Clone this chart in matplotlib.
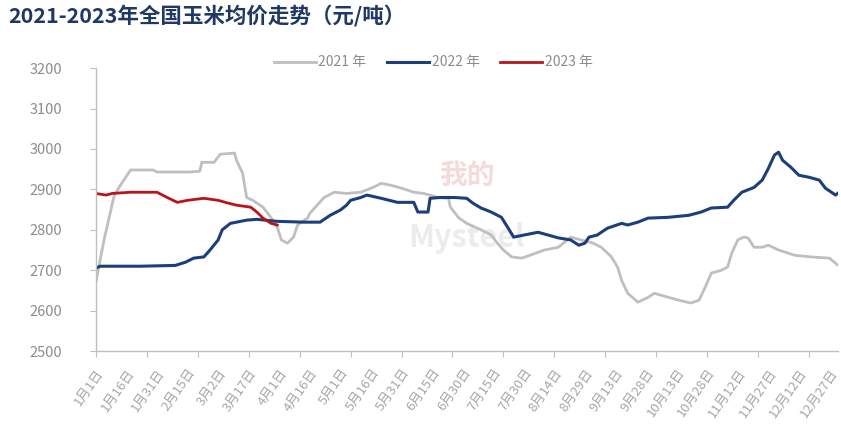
import matplotlib
matplotlib.use("Agg")
import matplotlib.pyplot as plt

plt.rcParams['font.family'] = ['Noto Sans CJK SC', 'DejaVu Sans']

# 数据：日序号（1月1日=0）与价格（元/吨）
dias_2021 = [0, 4, 9, 12, 17, 28, 30, 46, 51, 52, 58, 61, 68, 69, 72, 74, 77, 82, 86, 89,
             91, 94, 97, 99, 104, 105, 112, 117, 123, 130, 136, 140, 145, 150, 156, 161,
             168, 173, 174, 178, 182, 189, 194, 197, 200, 204, 209, 213, 220, 227, 233,
             244, 248, 253, 256, 258, 261, 266, 271, 274, 281, 286, 292, 296, 299, 302,
             307, 310, 312, 315, 318, 320, 323, 327, 330, 335, 343, 351, 360, 364]
precio_2021 = [2670, 2775, 2885, 2910, 2948, 2948, 2943, 2943, 2945, 2967, 2967, 2987, 2990,
               2972, 2940, 2880, 2873, 2856, 2830, 2807, 2775, 2767, 2782, 2812, 2830, 2841,
               2880, 2893, 2890, 2893, 2905, 2915, 2910, 2903, 2893, 2890, 2880, 2878, 2856,
               2830, 2816, 2800, 2787, 2767, 2750, 2733, 2730, 2737, 2750, 2757, 2782, 2767,
               2757, 2733, 2708, 2675, 2643, 2621, 2633, 2643, 2633, 2626, 2619, 2626, 2658,
               2693, 2700, 2708, 2742, 2775, 2782, 2780, 2757, 2757, 2762, 2750, 2737, 2733,
               2730, 2713]

dias_2022 = [0, 2, 22, 39, 44, 48, 53, 56, 60, 62, 66, 69, 74, 79, 89, 102, 110, 115, 120,
             123, 125, 130, 133, 140, 148, 156, 158, 163, 164, 169, 176, 182, 185, 189, 194,
             199, 202, 205, 210, 217, 222, 227, 233, 237, 240, 242, 246, 251, 258, 261, 266,
             271, 281, 291, 297, 302, 310, 313, 317, 323, 327, 330, 333, 335, 337, 341, 345,
             350, 355, 358, 363, 364]
precio_2022 = [2705, 2710, 2710, 2712, 2720, 2730, 2733, 2750, 2775, 2800, 2816, 2819, 2824,
               2826, 2821, 2819, 2819, 2836, 2849, 2861, 2873, 2880, 2886, 2878, 2868, 2868,
               2844, 2844, 2878, 2880, 2880, 2878, 2866, 2854, 2844, 2831, 2807, 2782, 2787,
               2794, 2787, 2780, 2775, 2762, 2767, 2782, 2787, 2804, 2816, 2812, 2819, 2829,
               2831, 2836, 2844, 2854, 2856, 2873, 2893, 2905, 2923, 2952, 2985, 2992, 2972,
               2955, 2935, 2930, 2923, 2903, 2886, 2890]

dias_2023 = [0, 5, 8, 17, 30, 35, 40, 45, 53, 60, 65, 69, 76, 79, 82, 86, 89]
precio_2023 = [2890, 2886, 2890, 2893, 2893, 2880, 2868, 2873, 2878, 2873, 2866, 2861, 2856,
               2844, 2829, 2816, 2812]

etiquetas_x = ["1月1日", "1月16日", "1月31日", "2月15日", "3月2日", "3月17日", "4月1日",
               "4月16日", "5月1日", "5月16日", "5月31日", "6月15日", "6月30日", "7月15日",
               "7月30日", "8月14日", "8月29日", "9月13日", "9月28日", "10月13日", "10月28日",
               "11月12日", "11月27日", "12月12日", "12月27日"]
yticks = [2500, 2600, 2700, 2800, 2900, 3000, 3100, 3200]

gris_txt = '#8c8c8c'

fig = plt.figure(figsize=(8.41, 4.34), dpi=100)
ax = fig.add_axes([0.114, 0.191, 0.882, 0.652])

# marca de agua
ax.text(0.5, 0.40, "Mysteel", transform=ax.transAxes, fontsize=22, color='#ececec',
        ha='center', va='center', fontweight='bold', zorder=0)
ax.text(0.50, 0.62, "我的", transform=ax.transAxes, fontsize=20, color='#f6dada',
        ha='center', va='center', fontweight='bold', zorder=0)

ax.plot(dias_2021, precio_2021, color='#bfbfbf', lw=2.0, label='2021 年')
ax.plot(dias_2022, precio_2022, color='#1c3f7c', lw=2.2, label='2022 年')
ax.plot(dias_2023, precio_2023, color='#b8141c', lw=2.0, label='2023 年')

ax.set_xlim(0, 364)
ax.set_ylim(2500, 3200)
ax.set_yticks(yticks)
ax.set_yticklabels([str(v) for v in yticks], color=gris_txt, fontsize=10.5)

ax.xaxis.remove_overlapping_locs = False
ax.set_xticks(range(0, 364, 25))
ax.set_xticklabels([])
ax.set_xticks(range(0, 365, 15), minor=True)
ax.set_xticklabels(etiquetas_x, minor=True, rotation=55, ha='right', va='top',
                   rotation_mode='anchor', color='#a6a6a6', fontsize=9.5)
ax.tick_params(axis='x', which='major', length=4, color='#bfbfbf', direction='out')
ax.tick_params(axis='x', which='minor', length=0, pad=11)
ax.tick_params(axis='y', length=4, color='#bfbfbf', direction='out', pad=20)

for lado in ['top', 'right']:
    ax.spines[lado].set_visible(False)
for lado in ['left', 'bottom']:
    ax.spines[lado].set_color('#bfbfbf')
    ax.spines[lado].set_linewidth(1.0)

leg = ax.legend(loc='center', bbox_to_anchor=(0.455, 1.02), ncol=3, frameon=False,
                fontsize=10, handlelength=3.0, columnspacing=1.5, handletextpad=0.2)
for t in leg.get_texts():
    t.set_color(gris_txt)

fig.text(0.01, 0.961, "2021-2023年全国玉米均价走势（元/吨）", fontsize=15.5,
         fontweight='bold', color='#1f3864', ha='left', va='center')

fig.savefig('out.png', dpi=100)
